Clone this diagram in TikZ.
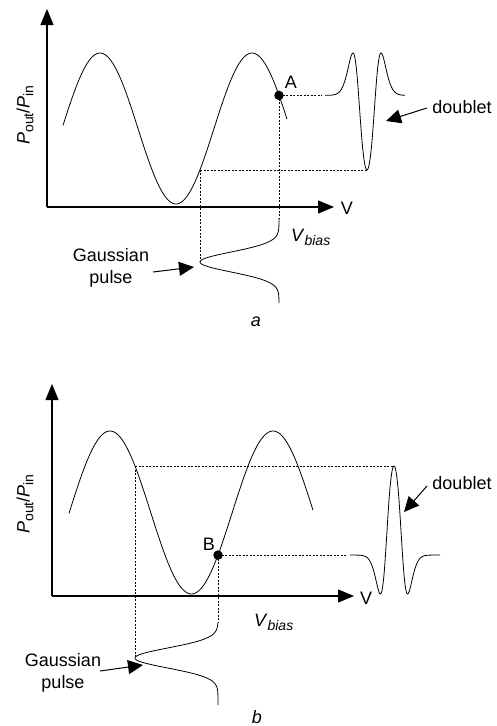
\documentclass[tikz,border=0pt]{standalone}
\usepackage{fontspec}
\setmainfont{Liberation Sans}
\usetikzlibrary{arrows.meta}
\newcommand\mysub[1]{\raisebox{-0.4ex}{\fontsize{14}{15}\selectfont #1}}
\begin{document}
\begin{tikzpicture}[x=1pt,y=-1pt,
  axis/.style={line width=1.2pt, -{Triangle[length=16pt,width=13pt]}},
  curve/.style={line width=0.8pt},
  guide/.style={line width=0.8pt, dash pattern=on 2pt off 1.5pt},
  ptr/.style={line width=1pt, -{Triangle[length=15pt,width=14pt]}},
  lbl/.style={inner sep=0pt, font=\fontsize{18}{21.5}\selectfont},
  dotpt/.style={circle, fill, inner sep=0pt, minimum size=9.5pt}]
\useasboundingbox (0,0) rectangle (497,726);
% ---------------- panel a ----------------
\coordinate (oa) at (47,207);
\coordinate (ya) at (47,9);
\coordinate (xa) at (334,207);
\draw[axis] (oa) -- (ya);
\draw[axis] (oa) -- (xa);
\node[lbl] (Va) at (347,208) {V};
\node[lbl, rotate=90] (Pa) at (25,115) {\textit{P}\mysub{out}/\textit{P}\mysub{in}};
\draw[curve] plot[domain=63:287, samples=150, variable=\x] ({\x},{128.5-75.5*cos(2.36842*(\x-100))});
\coordinate (A) at (279,95.4);
\coordinate (da0) at (325,95.4);
\coordinate (dat) at (367,169.9);
\coordinate (sa) at (200,169.9);
\coordinate (gat) at (200,262);
\coordinate (ga0) at (279,218);
\draw[guide, shorten >=3pt] (A) -- (da0);
\draw[guide] (A) -- (ga0);
\draw[guide] (sa) -- (dat);
\draw[guide] (sa) -- (gat);
\node[dotpt] (Adot) at (A) {};
\node[lbl] (Alab) at (291,82) {A};
% doublet a
\draw[curve] plot[domain=-42:38, samples=200, variable=\t] ({367+\t},{128.5-75.5*cos(2.36842*(179-79*exp(-((\t)*(\t))/184.3)))});
% gaussian a
\draw[curve] plot[domain=-44:41, samples=200, variable=\t] ({279-79*exp(-((\t)*(\t))/200)},{262+\t});
\node[lbl] (dla) at (462,107) {doublet};
\coordinate (dsa) at (427,108);
\coordinate (dpa) at (386,121);
\draw[ptr] (dsa) -- (dpa);
\node[lbl, align=center] (gla) at (111,268) {Gaussian\\pulse};
\coordinate (gsa) at (153,272);
\coordinate (gpa) at (194,267);
\draw[ptr] (gsa) -- (gpa);
\node[lbl, anchor=west] (vba) at (291,237) {\textit{V}\mysub{\textit{bias}}};
\node[lbl] (capa) at (256,322) {\textit{a}};
% ---------------- panel b ----------------
\coordinate (ob) at (52,596);
\coordinate (yb) at (52,384);
\coordinate (xb) at (354,596);
\draw[axis] (ob) -- (yb);
\draw[axis] (ob) -- (xb);
\node[lbl] (Vb) at (366,598) {V};
\node[lbl, rotate=90] (Pb) at (25,504) {\textit{P}\mysub{out}/\textit{P}\mysub{in}};
\draw[curve] plot[domain=69:313, samples=150, variable=\x] ({\x},{512.5-81.5*cos(2.20859*(\x-110))});
\coordinate (B) at (218,555.1);
\coordinate (db0) at (350,555.1);
\coordinate (dbp) at (394,466);
\coordinate (sb) at (135,466);
\coordinate (gbt) at (135,658);
\coordinate (gb0) at (218,623);
\draw[guide, shorten >=3pt] (B) -- (db0);
\draw[guide] (B) -- (gb0);
\draw[guide] (sb) -- (dbp);
\draw[guide] (sb) -- (gbt);
\node[dotpt] (Bdot) at (B) {};
\node[lbl] (Blab) at (209,544) {B};
% doublet b
\draw[curve] plot[domain=-44:46, samples=200, variable=\t] ({394+\t},{512.5-81.5*cos(2.20859*(108-83*exp(-((\t)*(\t))/162)))});
% gaussian b
\draw[curve] plot[domain=-35:47, samples=200, variable=\t] ({218-83*exp(-((\t)*(\t))/200)},{658+\t});
\node[lbl] (dlb) at (462,483) {doublet};
\coordinate (dsb) at (427,486);
\coordinate (dpb) at (404,512);
\draw[ptr] (dsb) -- (dpb);
\node[lbl, align=center] (glb) at (63,673) {Gaussian\\pulse};
\coordinate (gsb) at (100,671);
\coordinate (gpb) at (143,665);
\draw[ptr] (gsb) -- (gpb);
\node[lbl, anchor=west] (vbb) at (254,622) {\textit{V}\mysub{\textit{bias}}};
\node[lbl] (capb) at (257,717) {\textit{b}};
\end{tikzpicture}
\end{document}
